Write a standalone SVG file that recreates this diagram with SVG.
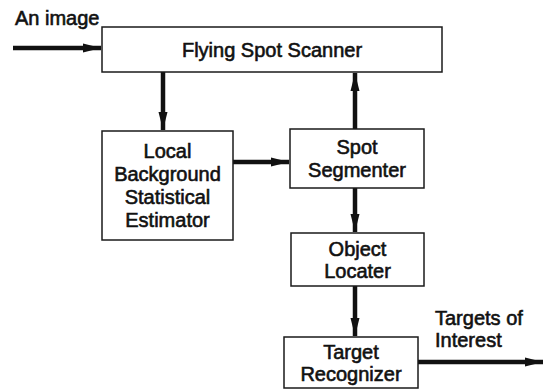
<svg xmlns="http://www.w3.org/2000/svg" width="544" height="389" viewBox="0 0 544 389">
<defs>
<style>
.box{fill:#fff;stroke:#1a1a1a;stroke-width:1.5}
.t{font-family:"Liberation Sans",Arial,sans-serif;font-size:20px;fill:#111;stroke:#111;stroke-width:0.6;text-anchor:middle}
.l{font-family:"Liberation Sans",Arial,sans-serif;font-size:20px;fill:#111;stroke:#111;stroke-width:0.6}
.c{stroke:#111;stroke-width:4.5;fill:none;marker-end:url(#ah)}
</style>
<marker id="ah" markerUnits="userSpaceOnUse" markerWidth="20" markerHeight="12" viewBox="0 0 20 12" refX="18" refY="6" orient="auto">
<path d="M0,1.5 L18,6 L0,10.5 Z" fill="#111"/>
</marker>
</defs>
<rect width="544" height="389" fill="#fff"/>
<text class="l" x="15" y="25">An image</text>
<text class="l" x="435" y="325">Targets of</text>
<text class="l" x="435" y="347">Interest</text>
<g id="connectors">
<path class="c" d="M13,48 H101"/>
<path class="c" d="M163,72 V130"/>
<path class="c" d="M355,129 V73"/>
<path class="c" d="M233,162 H289"/>
<path class="c" d="M355,188 V232"/>
<path class="c" d="M355,286 V336"/>
<path class="c" d="M418,362 H543"/>
</g>
<g id="scanner">
<rect class="box" x="102" y="27" width="340" height="45"/>
<text class="t" x="272" y="57">Flying Spot Scanner</text>
</g>
<g id="local">
<rect class="box" x="102" y="131" width="131" height="109"/>
<text class="t" x="167.5" y="158">Local</text>
<text class="t" x="167.5" y="181">Background</text>
<text class="t" x="167.5" y="204">Statistical</text>
<text class="t" x="167.5" y="227">Estimator</text>
</g>
<g id="segmenter">
<rect class="box" x="290" y="129" width="134" height="59"/>
<text class="t" x="357" y="154">Spot</text>
<text class="t" x="357" y="177">Segmenter</text>
</g>
<g id="locater">
<rect class="box" x="291" y="233" width="133" height="53"/>
<text class="t" x="357.5" y="256">Object</text>
<text class="t" x="357.5" y="278">Locater</text>
</g>
<g id="recognizer">
<rect class="box" x="284" y="337" width="134" height="51"/>
<text class="t" x="351" y="359">Target</text>
<text class="t" x="351" y="381">Recognizer</text>
</g>
</svg>
